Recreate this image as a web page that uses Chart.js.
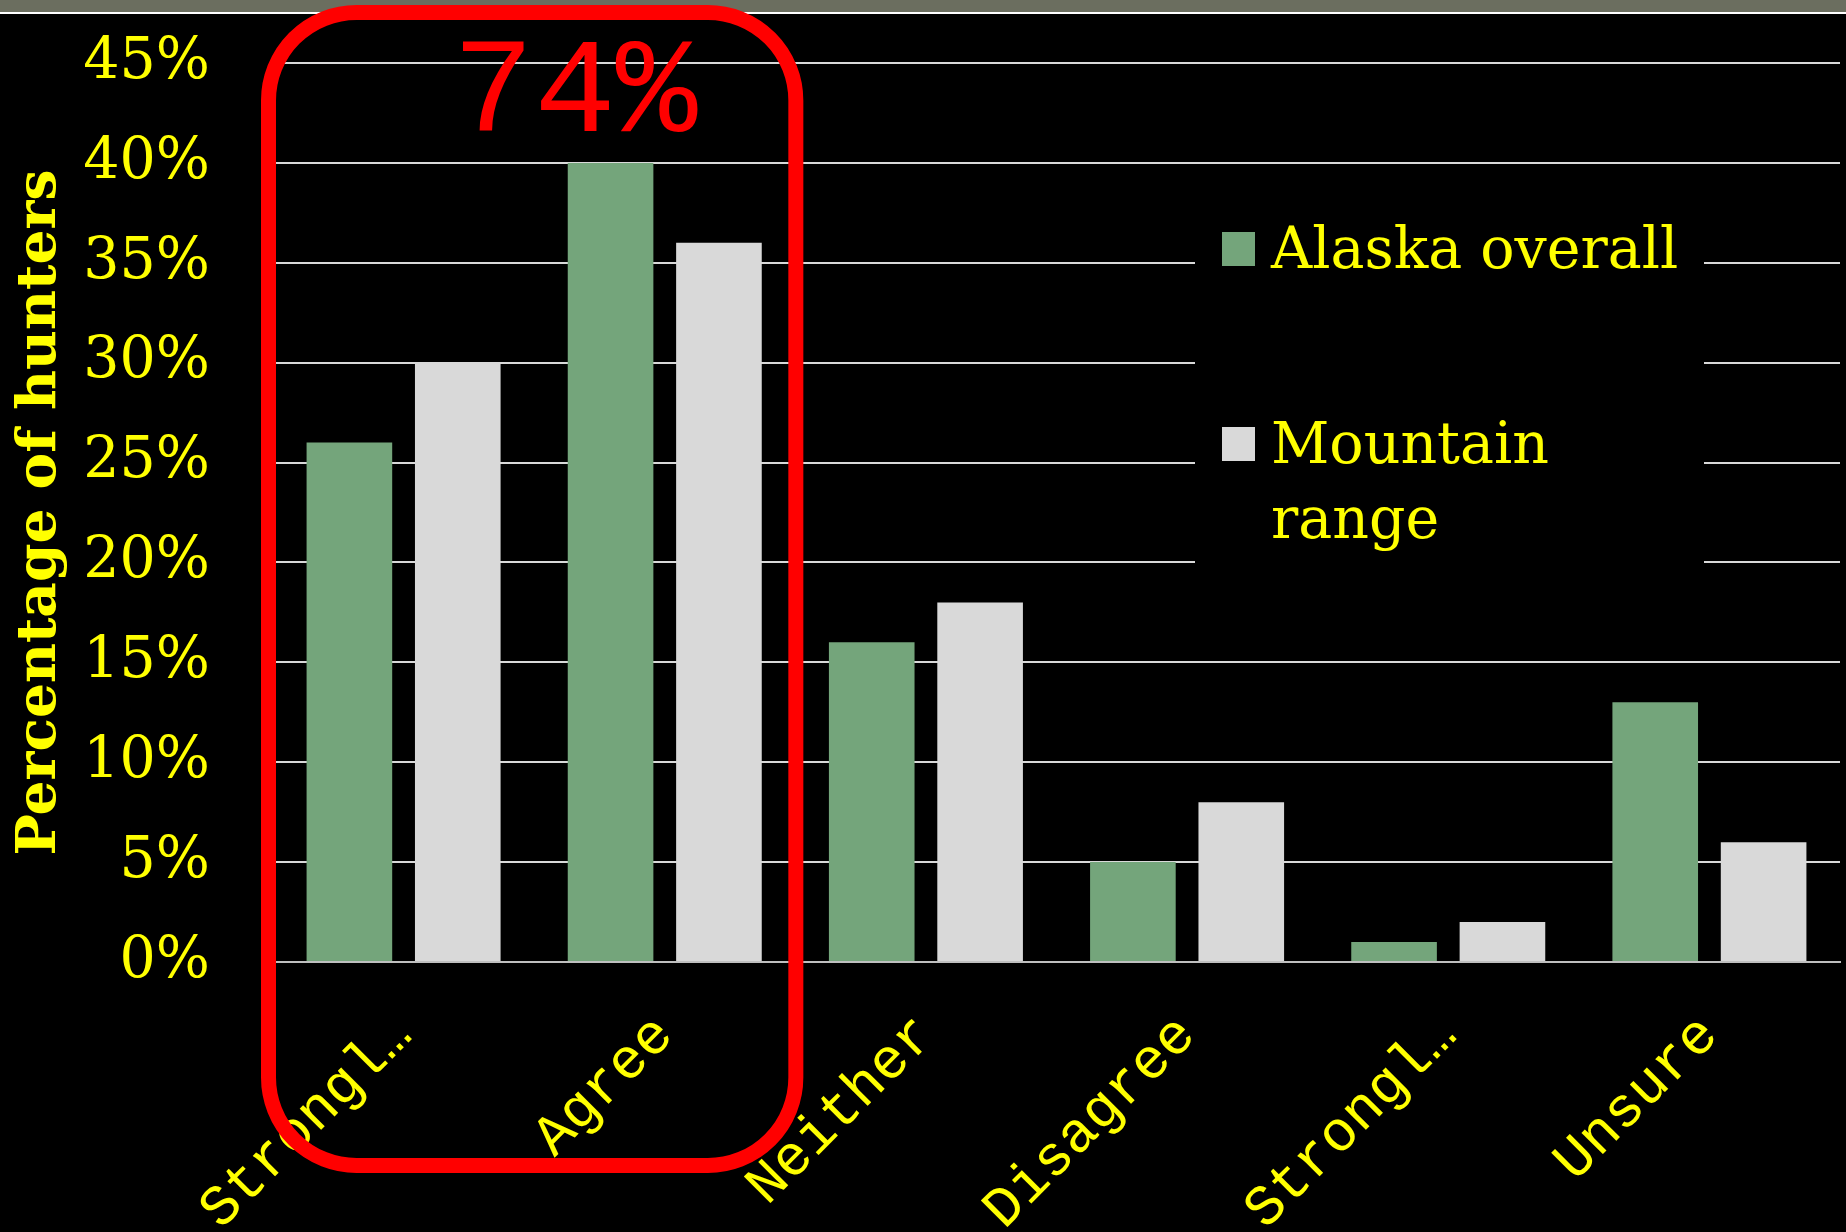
<!DOCTYPE html>
<html>
<head>
<meta charset="utf-8">
<script src="https://cdn.jsdelivr.net/npm/chart.js@4.4.0/dist/chart.umd.min.js"></script>
<style>
  html, body { margin: 0; padding: 0; background: #000; }
  body { width: 1846px; height: 1232px; position: relative; overflow: hidden; }
  .top-strip {
    position: absolute; left: 0; top: 0; width: 1846px; height: 12px;
    background: #6b6e5f; border-bottom: 2px solid #fff;
  }
  #chart { position: absolute; left: 0; top: 0; }
</style>
</head>
<body>
<div class="top-strip"></div>
<canvas id="chart" width="1846" height="1232"></canvas>
<script>
const categories = ["Strongl\u2026", "Agree", "Neither", "Disagree", "Strongl\u2026", "Unsure"];
const alaskaOverall = [26, 40, 16, 5, 1, 13];
const mountainRange = [30, 36, 18, 8, 2, 6];
const yTickValues = [0, 5, 10, 15, 20, 25, 30, 35, 40, 45];
const highlightText = "74%";

const YELLOW = "#ffff00";

// legend on the right, with a black box that hides the grid behind it
const sideLegend = {
  id: "sideLegend",
  afterDraw(chart) {
    const { ctx } = chart;
    const baselines = [268, 463];
    ctx.save();
    ctx.fillStyle = "#000";
    ctx.fillRect(1195, 180, 509, 430);
    ctx.font = '57px "DejaVu Serif"';
    ctx.textBaseline = "alphabetic";
    chart.data.datasets.forEach((ds, i) => {
      const base = baselines[i];
      ctx.fillStyle = ds.backgroundColor;
      ctx.fillRect(1222, base - 36, 33, 34);
      ctx.fillStyle = YELLOW;
      const lines = [];
      let line = "";
      ds.label.split(" ").forEach((word) => {
        const test = line ? line + " " + word : word;
        if (line && ctx.measureText(test).width > 435) {
          lines.push(line);
          line = word;
        } else {
          line = test;
        }
      });
      lines.push(line);
      lines.forEach((l, j) => ctx.fillText(l, 1271, base + j * 75));
    });
    ctx.restore();
  },
};

// red rounded box around the two "agree" categories
const highlightBox = {
  id: "highlightBox",
  afterDraw(chart) {
    const { ctx, scales: { x } } = chart;
    const half = (x.getPixelForValue(1) - x.getPixelForValue(0)) / 2;
    const left = x.getPixelForValue(0) - half - 12;
    const right = x.getPixelForValue(1) + half + 8;
    const top = 5;
    const bottom = 1173;
    const lw = 15;
    ctx.save();
    ctx.strokeStyle = "#ff0000";
    ctx.lineWidth = lw;
    ctx.beginPath();
    ctx.roundRect(left + lw / 2, top + lw / 2, right - left - lw, bottom - top - lw, 88);
    ctx.stroke();
    ctx.fillStyle = "#ff0000";
    ctx.font = '136px "Liberation Mono"';
    ctx.textAlign = "center";
    ctx.textBaseline = "alphabetic";
    ctx.fillText(highlightText, left + 314, 131);
    ctx.restore();
  },
};

new Chart(document.getElementById("chart"), {
  type: "bar",
  data: {
    labels: categories,
    datasets: [
      { label: "Alaska overall", data: alaskaOverall, backgroundColor: "#74a57b" },
      { label: "Mountain range", data: mountainRange, backgroundColor: "#d9d9d9" },
    ],
  },
  options: {
    responsive: false,
    animation: false,
    layout: { padding: { left: 8, top: 63, right: 6, bottom: 0 } },
    datasets: { bar: { categoryPercentage: 0.83, barPercentage: 0.79 } },
    plugins: { legend: { display: false }, tooltip: { enabled: false } },
    scales: {
      x: {
        grid: { display: false, drawTicks: false },
        border: { color: "#bfbfbf", width: 2 },
        ticks: {
          color: YELLOW,
          font: { family: "Liberation Mono", size: 57 },
          minRotation: 45,
          maxRotation: 45,
          autoSkip: false,
          padding: 40,
        },
        afterFit: (scale) => {
          scale.height = 270;
        },
      },
      y: {
        min: 0,
        max: 45,
        grid: { color: "#d9d9d9", lineWidth: 2, drawTicks: false },
        border: { display: false },
        afterBuildTicks: (axis) => {
          axis.ticks = yTickValues.map((v) => ({ value: v }));
        },
        ticks: {
          color: YELLOW,
          font: { family: "DejaVu Serif", size: 57 },
          padding: 63,
          callback: (v) => v + "%",
        },
        title: {
          display: true,
          text: "Percentage of hunters",
          color: YELLOW,
          font: { family: "DejaVu Serif", size: 55, weight: "bold", lineHeight: 1.2 },
          padding: { top: 0, bottom: 0 },
        },
        afterFit: (scale) => {
          scale.width = 265;
          scale.paddingTop = 0;
          scale.paddingBottom = 0;
        },
      },
    },
  },
  plugins: [sideLegend, highlightBox],
});
</script>
</body>
</html>
